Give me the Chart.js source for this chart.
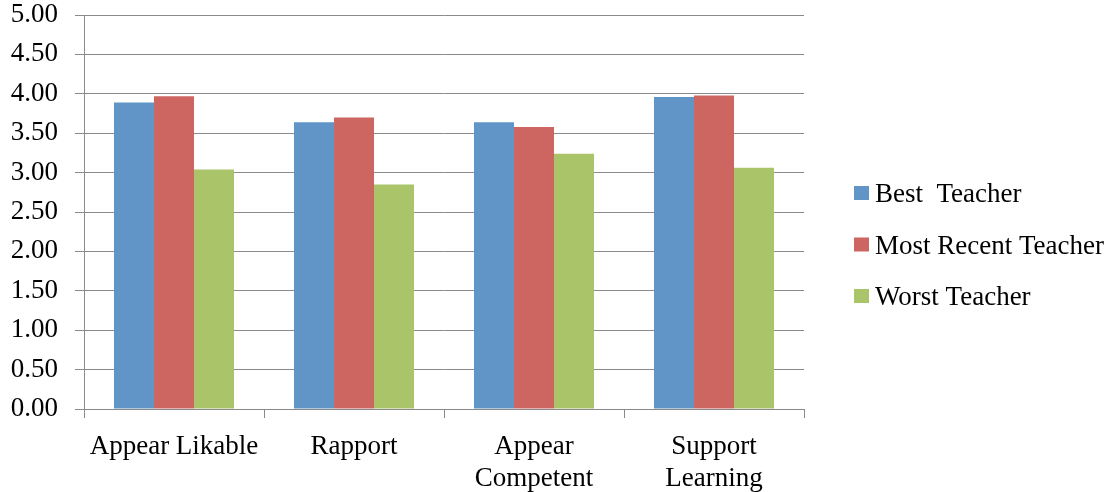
<!DOCTYPE html>
<html>
<head>
<meta charset="utf-8">
<script src="https://cdn.jsdelivr.net/npm/chart.js@4/dist/chart.umd.min.js"></script>
<style>
  html, body { margin: 0; padding: 0; background: #ffffff; }
  #wrap { width: 1120px; height: 492px; position: relative; }
</style>
</head>
<body>
<div id="wrap"><canvas id="chart" width="1120" height="492"></canvas></div>
<script>
// Teacher ratings by dimension
const categories = [
  "Appear Likable",
  "Rapport",
  ["Appear", "Competent"],
  ["Support", "Learning"]
];
const seriesNames = ["Best  Teacher", "Most Recent Teacher", "Worst Teacher"];
const bestTeacher = [3.89, 3.64, 3.64, 3.96];
const mostRecentTeacher = [3.97, 3.70, 3.58, 3.98];
const worstTeacher = [3.04, 2.85, 3.24, 3.06];
const yTicks = [0, 0.5, 1, 1.5, 2, 2.5, 3, 3.5, 4, 4.5, 5];

const colors = ["#6195C8", "#CD6660", "#AAC46A"];
const FONT = "'Liberation Serif', 'Times New Roman', serif";

// Legend drawn on the canvas to the right of the plot
const sideLegend = {
  id: "sideLegend",
  afterDraw(chart) {
    const ctx = chart.ctx;
    ctx.save();
    ctx.font = "27px " + FONT;
    ctx.textBaseline = "middle";
    ctx.textAlign = "left";
    chart.data.datasets.forEach((ds, i) => {
      const cy = 193 + i * 51.5;
      ctx.fillStyle = ds.backgroundColor;
      ctx.fillRect(854, cy - 7, 15, 14);
      ctx.fillStyle = "#000000";
      ctx.fillText(ds.label, 875, cy + 2);
    });
    ctx.restore();
  }
};

new Chart(document.getElementById("chart"), {
  type: "bar",
  data: {
    labels: categories,
    datasets: [
      { label: seriesNames[0], data: bestTeacher, backgroundColor: colors[0] },
      { label: seriesNames[1], data: mostRecentTeacher, backgroundColor: colors[1] },
      { label: seriesNames[2], data: worstTeacher, backgroundColor: colors[2] }
    ]
  },
  options: {
    responsive: false,
    animation: false,
    devicePixelRatio: 1,
    layout: { padding: { top: 0, right: 316, bottom: 0, left: 0 } },
    datasets: {
      bar: { categoryPercentage: 0.667, barPercentage: 1.0, borderWidth: 0 }
    },
    plugins: {
      legend: { display: false },
      tooltip: { enabled: false }
    },
    scales: {
      x: {
        grid: {
          display: true,
          drawOnChartArea: false,
          drawTicks: true,
          tickLength: 9,
          color: "#8a8a8a",
          offset: true
        },
        border: { display: true, color: "#8a8a8a", width: 1 },
        ticks: {
          color: "#000000",
          font: { family: FONT, size: 27, lineHeight: 1.18 },
          padding: 13,
          maxRotation: 0,
          autoSkip: false
        },
        afterFit(scale) { scale.height = 83; }
      },
      y: {
        min: 0,
        max: 5,
        afterBuildTicks(scale) { scale.ticks = yTicks.map(v => ({ value: v })); },
        grid: {
          color: "#8a8a8a",
          lineWidth: 1,
          drawTicks: true,
          tickLength: 9
        },
        border: { display: true, color: "#8a8a8a", width: 1 },
        ticks: {
          color: "#000000",
          font: { family: FONT, size: 27 },
          padding: 17,
          callback: v => Number(v).toFixed(2)
        },
        afterFit(scale) {
          scale.width = 84;
          scale.paddingTop = 15;
          scale.paddingBottom = 0;
        }
      }
    }
  },
  plugins: [sideLegend]
});
</script>
</body>
</html>
